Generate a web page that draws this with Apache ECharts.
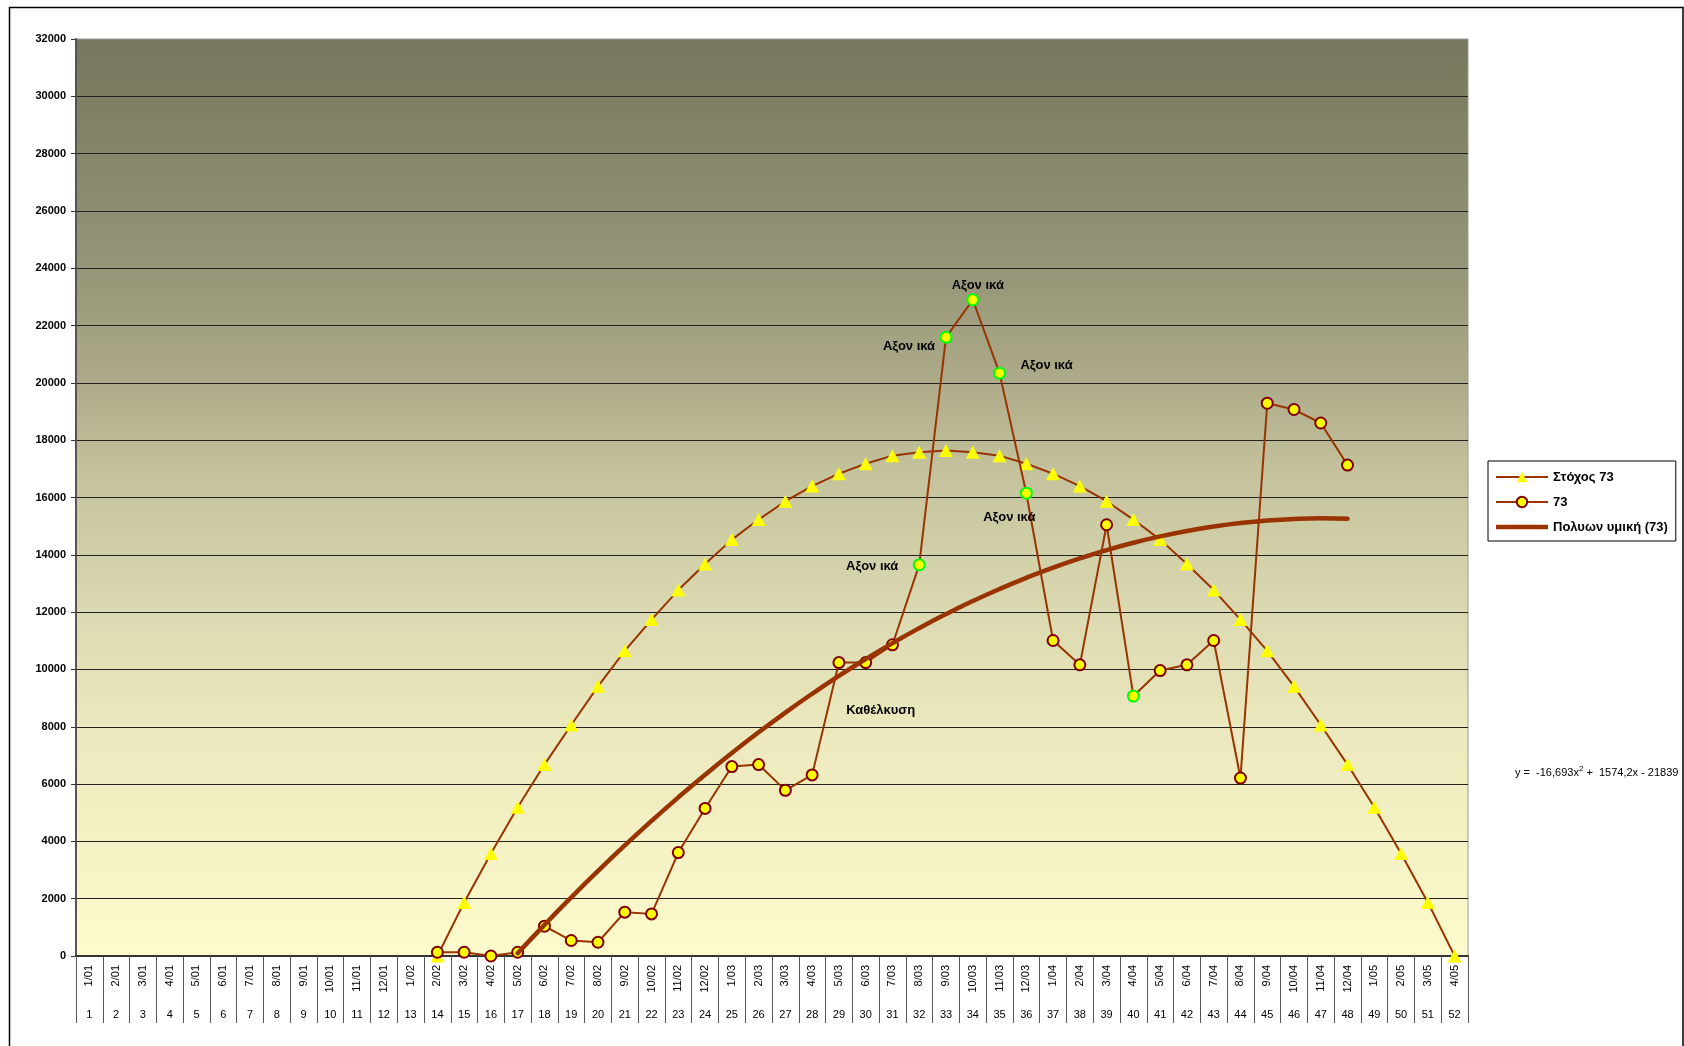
<!DOCTYPE html>
<html>
<head>
<meta charset="utf-8">
<script src="https://cdn.jsdelivr.net/npm/echarts@6/dist/echarts.min.js"></script>
<style>
  html, body { margin: 0; padding: 0; background: #ffffff; }
  #chart { width: 1684px; height: 1046px; }
</style>
</head>
<body>
<div id="chart"></div>
<script>
// Week-of-year date labels (week/month) and week numbers for the two-level category axis
const dateLabels = [
  '1/01','2/01','3/01','4/01','5/01','6/01','7/01','8/01','9/01','10/01','11/01','12/01',
  '1/02','2/02','3/02','4/02','5/02','6/02','7/02','8/02','9/02','10/02','11/02','12/02',
  '1/03','2/03','3/03','4/03','5/03','6/03','7/03','8/03','9/03','10/03','11/03','12/03',
  '1/04','2/04','3/04','4/04','5/04','6/04','7/04','8/04','9/04','10/04','11/04','12/04',
  '1/05','2/05','3/05','4/05'
];
const weekNumbers = [
  '1','2','3','4','5','6','7','8','9','10','11','12','13','14','15','16','17','18','19','20',
  '21','22','23','24','25','26','27','28','29','30','31','32','33','34','35','36','37','38','39','40',
  '41','42','43','44','45','46','47','48','49','50','51','52'
];

// Target ("Στόχος 73") per week, weeks 1..52
const targetValues = [
  null, null, null, null, null, null, null, null, null, null, null, null, null,
  0, 1870, 3580, 5190, 6680, 8060, 9410, 10650, 11740, 12770, 13680, 14530, 15230,
  15870, 16400, 16830, 17180, 17460, 17580, 17640, 17580, 17460, 17180, 16830, 16400,
  15870, 15230, 14530, 13680, 12770, 11740, 10650, 9410, 8060, 6680, 5190, 3580, 1870, 0
];

// Actual ("73") per week, weeks 1..52
const actualValues = [
  null, null, null, null, null, null, null, null, null, null, null, null, null,
  130, 130, 0, 130, 1040, 540, 480, 1530, 1470, 3610, 5150, 6610, 6680, 5780, 6320,
  10240, 10240, 10860, 13650, 21590, 22900, 20340, 16150, 11010, 10160, 15050, 9070,
  9960, 10160, 11010, 6210, 19290, 19070, 18600, 17130,
  null, null, null, null
];

// Weeks whose points are flagged (green outline)
const flaggedWeeks = [32, 33, 34, 35, 36, 40];

// Notes attached to points of the "73" series
const noteWeeks = [30, 32, 33, 34, 35, 36];
const noteTexts = ['Καθέλκυση', 'Αξον ικά', 'Αξον ικά', 'Αξον ικά', 'Αξον ικά', 'Αξον ικά'];

// Polynomial (order 2) trend of "73": y = a·x² + b·x + c, drawn over weeks 17..48
const trendCoefficients = [-16.693, 1574.2, -21839];
const trendWeekRange = [17, 48];

const seriesNames = ['Στόχος 73', '73', 'Πολυων υμική (73)'];

// ---------------------------------------------------------------------------
const FONT = '"Liberation Sans", Arial, sans-serif';
const LINE_COLOR = '#993300';

// where each note sits relative to its point
const noteOffsets = {
  30: [15, 48],
  32: [-47, 2],
  33: [-37, 9],
  34: [5, -14],
  35: [47, -8],
  36: [-17, 24]
};

const actualData = actualValues.map((v, i) => {
  const week = i + 1;
  if (v === null) return null;
  const item = { value: v };
  if (flaggedWeeks.indexOf(week) >= 0) {
    item.itemStyle = { borderColor: '#00ff00' };
  }
  const n = noteWeeks.indexOf(week);
  if (n >= 0) {
    item.label = {
      show: true,
      formatter: noteTexts[n],
      position: 'inside',
      offset: noteOffsets[week],
      align: 'center',
      verticalAlign: 'middle',
      color: '#000',
      fontFamily: FONT,
      fontWeight: 'bold',
      fontSize: 13,
      textBorderWidth: 0
    };
  }
  return item;
});

const [ta, tb, tc] = trendCoefficients;
const trendValues = weekNumbers.map((w) => {
  const x = Number(w);
  if (x < trendWeekRange[0] || x > trendWeekRange[1]) return null;
  return ta * x * x + tb * x + tc;
});

function fmt(n) {
  return String(Math.abs(n)).replace('.', ',');
}
const equationText =
  'y =  ' + (ta < 0 ? '-' : '') + fmt(ta) + 'x{sup|2} ' + (tb < 0 ? '-  ' : '+  ') + fmt(tb) +
  'x ' + (tc < 0 ? '- ' : '+ ') + fmt(tc);

const chart = echarts.init(document.getElementById('chart'), null, { renderer: 'canvas' });

chart.setOption({
  animation: false,
  backgroundColor: '#ffffff',
  textStyle: { fontFamily: FONT },
  grid: {
    left: 76, right: 216, top: 39, bottom: 90,
    show: true,
    borderColor: '#9a9a9a',
    borderWidth: 1,
    backgroundColor: new echarts.graphic.LinearGradient(0, 0, 0, 1, [
      { offset: 0, color: '#76765c' },
      { offset: 0.25, color: '#959577' },
      { offset: 0.375, color: '#adab89' },
      { offset: 0.47, color: '#c4c29c' },
      { offset: 0.625, color: '#dbd9b1' },
      { offset: 0.75, color: '#ebe8bd' },
      { offset: 1, color: '#fdfbcc' }
    ])
  },
  legend: {
    orient: 'vertical',
    left: 1488,
    top: 461,
    backgroundColor: '#ffffff',
    borderColor: '#000000',
    borderWidth: 1,
    borderRadius: 0,
    padding: [8, 8, 6, 7],
    itemGap: 9,
    itemWidth: 52,
    itemHeight: 13,
    textStyle: { fontFamily: FONT, fontWeight: 'bold', fontSize: 13, color: '#000', lineHeight: 16 },
    data: [
      { name: seriesNames[0] },
      { name: seriesNames[1] },
      {
        name: seriesNames[2],
        icon: 'path://M0,0L52,0L52,4.5L0,4.5Z',
        itemStyle: { color: LINE_COLOR }
      }
    ]
  },
  xAxis: [
    {
      type: 'category',
      data: dateLabels,
      position: 'bottom',
      boundaryGap: true,
      axisLine: { show: true, lineStyle: { color: '#333333', width: 2 } },
      axisTick: { show: true, length: 67, interval: 0, lineStyle: { color: '#555555', width: 1 } },
      axisLabel: { interval: 0, rotate: 90, margin: 9, fontSize: 11, color: '#000', fontFamily: FONT },
      splitLine: { show: false }
    },
    {
      type: 'category',
      data: weekNumbers,
      position: 'bottom',
      boundaryGap: true,
      axisLine: { show: false },
      axisTick: { show: false },
      axisLabel: { interval: 0, margin: 53, fontSize: 11, color: '#000', fontFamily: FONT },
      splitLine: { show: false }
    }
  ],
  yAxis: {
    type: 'value',
    min: 0,
    max: 32000,
    interval: 2000,
    axisLine: { show: true, lineStyle: { color: '#555555', width: 2 } },
    axisTick: { show: true, length: 5, lineStyle: { color: '#333333' } },
    axisLabel: {
      fontWeight: 'bold', fontSize: 11, margin: 10, color: '#000', fontFamily: FONT,
      formatter: (v) => String(v)
    },
    splitLine: { show: true, showMaxLine: false, lineStyle: { color: '#222222', width: 1 } }
  },
  series: [
    {
      name: seriesNames[0],
      type: 'line',
      xAxisIndex: 0,
      data: targetValues,
      z: 2,
      symbol: 'triangle',
      symbolSize: [14, 13],
      showSymbol: true,
      showAllSymbol: true,
      lineStyle: { color: LINE_COLOR, width: 2 },
      itemStyle: { color: '#ffff00', borderWidth: 0 },
      emphasis: { disabled: true }
    },
    {
      name: seriesNames[1],
      type: 'line',
      xAxisIndex: 0,
      data: actualData,
      z: 3,
      symbol: 'circle',
      symbolSize: 11,
      showSymbol: true,
      showAllSymbol: true,
      lineStyle: { color: LINE_COLOR, width: 2 },
      itemStyle: { color: '#ffff00', borderColor: '#800000', borderWidth: 2 },
      emphasis: { disabled: true }
    },
    {
      name: seriesNames[2],
      type: 'line',
      xAxisIndex: 0,
      data: trendValues,
      z: 4,
      smooth: true,
      symbol: 'none',
      lineStyle: { color: LINE_COLOR, width: 4.5, cap: 'round' },
      itemStyle: { color: LINE_COLOR },
      emphasis: { disabled: true }
    }
  ],
  graphic: [
    {
      type: 'rect',
      silent: true,
      shape: { x: 9.5, y: 7.5, width: 1673.5, height: 1100 },
      style: { fill: 'none', stroke: '#000000', lineWidth: 1.5 }
    },
    {
      type: 'text',
      silent: true,
      x: 1515,
      y: 773,
      style: {
        text: equationText,
        fontFamily: FONT,
        fontSize: 11,
        fill: '#000',
        verticalAlign: 'middle',
        rich: {
          sup: { fontSize: 8, fontFamily: FONT, fill: '#000', verticalAlign: 'top', padding: [0, 0, 8, 0] }
        }
      }
    }
  ]
});
</script>
</body>
</html>
